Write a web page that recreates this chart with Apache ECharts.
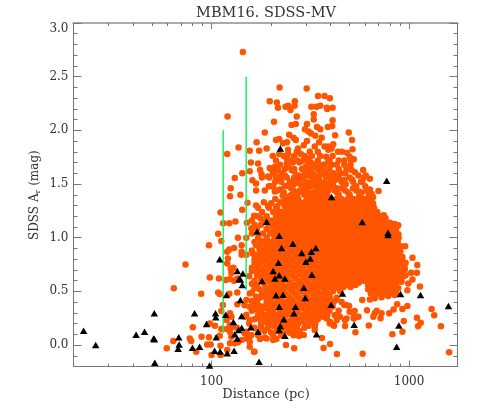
<!DOCTYPE html>
<html>
<head>
<meta charset="utf-8">
<style>
  html,body{margin:0;padding:0;background:#fff;}
  #chart{width:480px;height:413px;}
</style>
<script src="https://cdn.jsdelivr.net/npm/echarts@6/dist/echarts.min.js"></script>
</head>
<body>
<div id="chart"></div>
<script>
// tick values
const xMajor=[100,1000];
const xMinor=[20,30,40,50,60,70,80,90,200,300,400,500,600,700,800,900];
const yMajor=[0,0.5,1,1.5,2,2.5,3];

// MBM16 sightline markers [distance, A_r]
const greenA=[[114.5,0.11],[114.5,2.0]];
const greenB=[[149.7,0.51],[149.7,2.5]];

// orange dots, the sparse top of the cloud [distance, A_r]
const orangeTop=[[144,2.73],[221,2.40],[303,2.39],[346,2.32],[373,2.32],[397,2.30],[197,2.27],[214,2.26],[264,2.27],[263,2.23],[217,2.21],[237,2.22],[244,2.23],[251,2.19],[320,2.22],[340,2.22],[355,2.23],[385,2.20],[383,2.21],[410,2.21],[270,2.13],[329,2.15],[329,2.10],[410,2.095],[120.5,2.13],[207,2.08],[254,2.05],[267,2.06],[304,2.06],[388,2.03],[408,2.04],[342,2.03],[355,2.01],[297,2.01],[186,1.98],[247,1.96],[310,1.99],[319,1.97],[495,1.98],[422,1.955],[260,1.93],[267,1.91],[335,1.95],[361,1.93],[220,1.92],[212,1.91],[169,1.89],[241,1.89],[304,1.90],[350,1.89],[514,1.91],[230,1.88],[413,1.87],[390,1.85],[405,1.83],[137,1.84],[190,1.83],[156,1.81],[174,1.81],[120,1.78],[244,1.82],[274,1.83],[293,1.86],[333,1.85],[373,1.85],[517,1.825],[204,1.76],[220,1.78],[244,1.78],[270,1.80],[283,1.78],[314,1.80],[345,1.80],[390,1.82],[437,1.80],[458,1.80],[486,1.79],[500,1.755],[380,1.755],[508,1.72],[525,1.73],[158,1.70],[172,1.69],[197,1.65],[209,1.66],[222,1.68],[240,1.69],[254,1.63],[279,1.70],[309,1.71],[333,1.66],[367,1.68],[390,1.71],[156,1.62],[176,1.63],[179,1.59],[217,1.63],[143,1.60],[131,1.555],[193,1.57],[215,1.57],[161,1.535],[168,1.505],[168,1.44],[125,1.46],[124,1.385],[140,1.40],[186,1.44],[199,1.48],[222,1.45],[209,1.43],[229,1.39],[241,1.375],[244,1.49],[254,1.46],[152,1.325],[168,1.30],[143,1.26],[111,1.235],[184,1.33],[193,1.295],[164,1.205],[212,1.29],[114.5,1.135],[123,1.135],[132,1.15],[151,1.14],[177,1.18],[159,1.085]];

// orange dots, left of the cloud and below zero
const orangeLeft=[[59.3,-0.03],[64,0.037],[64.4,0.53],[73.8,0.75],[77.6,0.062],[78.8,0.037],[80.4,0.165],[83.6,-0.062],[89,0.077],[88.6,0.478],[95,0.006],[99,0.006],[97,0.072],[98,0.63],[97,0.93],[98,0.2],[104,0.18],[100,-0.093],[108,1.036],[112,0.97],[109,0.62],[108,0.49],[110,0.475],[114,0.372],[112,0.317],[112,0.15],[110,0.087],[111,-0.006],[111,-0.093],[120,0.87],[123,0.89],[130,0.905],[121,0.807],[120,0.76],[129,0.72],[125,0.71],[126,0.67],[118,0.605],[124,0.615],[130,0.60],[135,0.62],[123,0.478],[135,0.49],[135,0.38],[124,0.295],[126,0.263],[119,0.233],[124,0.186],[119,0.149],[129,0.17],[124,0.124],[134,0.16],[126,0.077],[124,0.016],[131,0.016],[136,0.025],[142,0.046],[120,-0.047],[142,0.93],[142,0.87],[142,0.84],[136,1.0],[150,0.42],[156,0.48],[165,0.53],[162,0.574],[147,0.37],[156,0.357],[165,0.37],[147,0.263],[156,0.233],[159,0.093],[156,0.03],[156,-0.016],[165,-0.062],[147,0.109],[150,0.062],[150,0.124],[156,0.077],[164,-0.062]];

// orange dots, lower edge and right of the cloud
const orangeRight=[[190,0.062],[207,0.053],[238,0],[262,-0.03],[277,0.084],[293,0.093],[333,0.17],[333,0.14],[176,0.056],[277,0.124],[249,0.115],[186,0.07],[205,0.046],[213,0.056],[397,0.2],[417,0.18],[474,0.233],[500,0.31],[530,0.317],[480,0.372],[525,0.263],[362,0.065],[398,0.009],[369,-0.028],[431,-0.084],[582,-0.081],[1595,-0.068],[554,0.263],[525,0.248],[497,0.363],[470,0.372],[482,0.248],[447,0.263],[430,0.233],[413,0.186],[397,0.217],[383,0.248],[367,0.263],[474,0.177],[535,0.12],[625,0.183],[612,0.323],[717,0.25],[685,0.32],[659,0.263],[670,0.295],[725,0.295],[793,0.295],[835,0.332],[870,0.38],[925,0.335],[980,0.363],[940,0.223],[925,0.124],[823,0.10],[1095,0.254],[1145,0.208],[1110,0.174],[1300,0.335],[1340,0.277],[1448,0.174],[579,0.42],[633,0.425],[670,0.435],[725,0.444],[783,0.456],[845,0.465],[881,0.528],[815,0.574],[1135,0.546],[980,0.51],[990,0.574],[1040,0.61],[915,0.59],[960,0.65],[1025,0.673],[1095,0.673],[950,0.70],[1100,0.745],[960,0.766],[1040,0.813],[925,0.82],[903,0.87],[955,0.92],[870,0.977],[882,1.033],[870,1.11],[881,1.117],[845,1.127],[800,1.14],[760,1.18],[745,1.21],[683,1.21],[620,1.26],[646,1.29],[657,1.32],[633,1.36],[657,1.38],[646,1.41],[700,1.435],[633,1.45],[620,1.44],[559,1.43],[580,1.52],[633,1.55],[604,1.58],[553,1.58],[532,1.61],[585,1.63],[511,1.63]];

// orange dots, the dense core, one row per A_r band: [A_r, distances...]
const orangeCore=[
[1.76,232,262,295,322,355,410],
[1.72,212,250,272,292,345,395,440,470],
[1.68,330,352,373,405,430,470,505],
[1.64,200,214,235,262,287,316,345,395,440,482],
[1.60,205,228,300,325,360,385,415,450,475],
[1.58,235,275,310,345,395,435],
[1.56,180,196,212,240,262,290,322,350,380,410,440,500,590],
[1.54,425,470,515],
[1.52,210,225,250,275,300,330,355,400,455,520,570],
[1.50,262,282,312,345,380,412,478],
[1.48,195,205,235,290,320,340,370,400,465,540,600],
[1.46,430,455,520],
[1.44,215,260,280,305,345,365,390,420,475,540,610],
[1.42,232,270,292,325,355,380,432,490,575],
[1.40,255,272,295,320,335,360,385,440,500,560,625],
[1.36,210,235,250,275,305,330,350,380,400,430,455,490,520,550,585,610],
[1.34,268,300,326,358,376,405,436,462,505,538,575],
[1.32,200,230,245,265,290,315,340,365,390,415,440,470,495,530,565,600,640],
[1.30,255,282,308,333,358,380,408,425,455,482,512,545,575,618],
[1.28,172,195,215,240,260,280,300,325,350,375,400,430,460,490,520,550,585,625,665],
[1.26,262,288,310,332,358,382,412,442,472,500,532,565,598,640],
[1.24,180,205,225,250,270,290,315,340,365,390,420,450,480,510,540,575,610,650,690],
[1.22,245,268,298,322,348,372,398,428,458,488,518,552,585,622,662],
[1.20,170,190,212,235,260,280,305,330,355,380,405,435,465,495,525,560,595,635,675,715],
[1.18,235,258,284,308,335,362,388,416,446,476,506,538,572,608,648,690],
[1.16,160,185,200,220,245,270,295,318,345,370,395,425,455,485,515,550,585,620,660,700,740],
[1.14,225,252,276,302,326,352,378,406,436,466,498,530,565,600,640,680,722],
[1.12,165,178,195,210,232,255,280,305,330,355,385,415,445,475,505,540,575,610,650,690,730,775],
[1.10,215,240,266,290,315,340,368,396,426,456,486,518,552,588,625,665,705,750,795],
[1.08,170,190,205,222,245,270,295,320,345,375,405,435,465,495,530,565,600,640,680,720,765,815,860],
[1.06,228,252,276,302,326,352,380,412,442,472,505,538,572,610,650,690,735,780,825],
[1.04,160,182,198,215,238,262,285,310,335,365,395,425,455,490,520,555,590,630,670,710,755,800,850],
[1.02,220,245,268,292,318,342,370,400,432,462,495,530,565,600,640,680,725,770,815],
[1.00,150,172,190,208,230,255,278,300,328,355,385,415,445,475,510,545,580,620,660,700,745,790,840,885],
[0.98,212,238,262,286,310,335,362,392,422,452,485,518,555,592,632,672,715,760,805,855],
[0.96,165,185,200,222,245,270,295,320,345,375,405,435,465,500,535,570,610,650,690,735,780,830,875],
[0.94,225,250,275,298,325,352,382,412,444,476,510,546,584,624,664,708,752,798,845],
[0.92,175,195,215,238,260,285,310,335,365,395,425,455,490,525,560,600,640,680,725,770,820,865,910],
[0.90,215,240,265,290,315,342,372,402,434,466,500,536,572,612,654,696,740,785,835,880],
[0.88,160,185,205,228,250,275,300,325,355,385,415,445,480,515,550,590,630,670,715,760,805,850],
[0.86,205,230,255,280,305,332,360,390,422,454,488,524,562,600,642,684,728,775,822,868],
[0.84,150,172,195,218,240,265,290,315,345,375,405,435,470,505,540,580,620,660,705,750,795,840,885],
[0.82,218,242,268,292,320,350,380,410,442,476,512,550,590,630,672,718,762,808,855,900],
[0.80,165,185,208,230,255,280,305,335,365,395,425,460,495,530,570,610,650,695,740,785,830,875,920],
[0.78,210,235,258,284,310,338,368,398,432,466,502,540,578,620,662,706,752,798,845,892],
[0.76,175,198,220,245,270,295,325,355,385,415,450,485,520,560,600,640,685,730,775,820,870,915],
[0.74,222,248,272,298,328,358,390,422,456,492,530,568,610,652,698,742,790,838,885],
[0.72,160,185,210,235,260,285,315,345,375,405,440,475,510,550,590,630,675,720,765,810,860,910,950],
[0.70,212,238,262,290,318,350,380,412,446,482,520,558,600,642,686,732,780,826,875],
[0.68,170,195,225,250,275,305,335,365,395,430,465,500,540,580,620,665,710,755,800,850,900],
[0.66,225,250,278,308,338,370,402,436,472,510,548,590,632,676,722,768,815,862],
[0.64,155,180,205,235,260,290,320,350,380,415,450,485,525,565,605,650,695,740,790,840,890,940],
[0.62,210,238,265,295,326,356,388,422,458,496,536,576,618,662,708,752,800,848],
[0.60,165,190,215,245,275,305,335,365,400,435,470,510,550,590,635,680,730,775,825,870],
[0.58,222,250,280,308,338,370,405,440,478,518,556,635,680,728,775,822,842],
[0.56,170,200,230,260,290,320,350,385,420,455,495,535,620,665,715,760,810,860],
[0.54,212,240,268,298,330,362,395,430,465,505,640,690,735,780,830],
[0.52,175,195,220,250,280,310,340,375,410,445,620,655,700,745,795,850],
[0.50,225,255,285,315,345,378,412,448,650,705,760,815],
[0.48,180,205,235,265,295,325,355,385,640,690,745,800,860],
[0.46,212,242,270,300,330,360,395],
[0.44,175,198,225,250,278,305,335,365,395,430],
[0.42,222,255,285,315,345,378,425],
[0.40,170,190,215,240,262,290,320,350,385,415,455],
[0.38,212,245,270,298,330,362,395],
[0.36,165,180,205,232,255,280,310,340,375,410],
[0.34,190,225,255,285,318,350,382],
[0.32,160,178,198,222,245,270,300,330,360,395,440],
[0.30,205,240,272,305,340,372],
[0.28,150,172,190,212,238,262,290,320,350,385,420],
[0.26,195,228,262,295,330],
[0.24,165,185,208,232,255,280,310,345],
[0.22,215,245,285,320],
[0.20,155,178,200,225,250,275,300,335],
[0.18,205,238,262,310],
[0.16,165,192,215,245,270,295],
[0.12,172,200,230,262]
];

// orange dots, upper middle of the cloud, same row layout
const orangeMid=[
[1.74,240,305],
[1.70,258,318],
[1.66,245,300,360],
[1.62,262,312,372],
[1.59,295,355],
[1.55,225,278,335],
[1.51,265,318,372],
[1.47,250,302,358],
[1.43,288,340],
[1.39,250,305,352,378],
[1.35,262,318,365],
[1.33,222,252,278,302,328,352],
[1.29,235,268,292,318,345,370],
[1.25,212,240,278,300,325,350],
[1.21,225,252,275,295,318,342,368],
[1.17,212,242,268,292,315,340],
[1.13,200,240,265,290,316,342],
[1.09,210,232,258,282,308,332,356],
[1.05,205,222,248,270,295,320,345]
];

// orange dots, mottled left flank of the cloud, same row layout
const orangeFlank=[
[0.97,178,192,215,232],
[0.93,168,188,205,225],
[0.89,175,195,215,238],
[0.85,162,182,205,228],
[0.81,175,195,215],
[0.77,165,188,208,232],
[0.73,172,198,222],
[0.69,160,182,205,215],
[0.65,170,192,215],
[0.61,178,202,230],
[0.57,160,185,212],
[0.53,168,188,208,232],
[0.49,160,192,218],
[0.45,168,185,212],
[0.41,160,200,228],
[0.37,172,192,220],
[0.33,168,205,240],
[0.29,180,200,225,250],
[0.25,172,198,220,270],
[0.21,190,238,262],
[0.17,178,228,255],
[0.13,185,215,245,280],
[0.09,172,205,225,260]
];

// black triangles [distance, A_r]
const triangles=[[22.5,0.133],[25.9,0],[41.5,0.096],[45.8,0.124],[51.3,0.295],[50.9,0.06],[51.4,0.053],[51.6,-0.165],[68.2,0.072],[68.5,0.006],[67.7,-0.035],[80,-0.025],[87,-0.015],[82,0.295],[94.3,0.195],[97.7,-0.19],[104.7,0.295],[105,0.258],[105.5,0.072],[103.6,-0.053],[110.5,-0.06],[120,-0.077],[110,0.80],[119,0.465],[118,0.282],[129,0.214],[130,-0.053],[131,0.10],[135,0.062],[135,0.69],[138,0.615],[140,0.42],[142,0.27],[137,0.14],[144,0.667],[140,0.61],[143,0.56],[190,1.148],[170,1.058],[220,1.018],[258,0.943],[226,0.903],[337,0.903],[320,0.87],[286,0.857],[316,0.807],[300,0.776],[218,0.766],[205,0.69],[322,0.655],[220,0.65],[209,0.62],[235,0.62],[180,0.596],[293,0.534],[212,0.463],[230,0.468],[298,0.438],[220,0.357],[266,0.357],[261,0.295],[232,0.24],[223,0.177],[220,0.14],[340,0.10],[235,0.087],[172,0.124],[158,0.165],[142,0.16],[174,-0.155],[770,1.53],[405,1.38],[579,1.145],[782,1.045],[782,1.025],[460,0.48],[403,0.375],[527,0.19],[905,0.475],[1142,0.465],[1582,0.363],[888,0.183],[865,-0.015],[223,1.83]];

const orangeDots=orangeTop.concat(orangeLeft,orangeRight);
[orangeCore,orangeMid,orangeFlank].forEach((rows)=>{
    rows.forEach((row)=>{
        row.slice(1).forEach((d)=>orangeDots.push([d,row[0]]));
    });
});

const gridBox={left:73.5,right:22.5,top:23,bottom:46.5};
const lineColor='#777';
const textColor='#333';
const serif='"DejaVu Serif","Liberation Serif",serif';

function makeX(gridIndex,position,ticks,len,labels){
    return {
        type:'log',gridIndex,position,min:20,max:1758,
        splitLine:{show:false},
        axisLine:{show:true,onZero:false,lineStyle:{color:position=='top'?'#aaa':lineColor,width:position=='top'?2:1}},
        axisTick:{show:true,inside:true,length:len,customValues:ticks,lineStyle:{color:lineColor}},
        axisLabel:labels?{show:true,customValues:ticks,margin:9,color:textColor,fontFamily:serif,fontSize:12,formatter:(v)=>String(Math.round(v))}:{show:false}
    };
}
function makeY(gridIndex,position,ticks,len,labels){
    const tick={show:true,inside:true,length:len,lineStyle:{color:lineColor}};
    if(ticks){tick.customValues=ticks;}
    return {
        type:'value',gridIndex,position,min:-0.2,max:3,interval:0.1,
        splitLine:{show:false},
        axisLine:{show:true,onZero:false,lineStyle:{color:lineColor}},
        axisTick:tick,
        axisLabel:labels?{show:true,customValues:ticks,margin:5,verticalAlignMaxLabel:'top',color:textColor,fontFamily:serif,fontSize:12,formatter:(v)=>v.toFixed(1)}:{show:false}
    };
}

const myChart=echarts.init(document.getElementById('chart'));
myChart.setOption({
    animation:false,
    title:{
        text:'MBM16. SDSS-MV',left:261,top:1,textAlign:'center',
        textStyle:{fontFamily:serif,fontWeight:'normal',fontSize:14.5,color:textColor}
    },
    grid:[gridBox,gridBox],
    xAxis:[
        makeX(0,'bottom',xMajor,6,true),
        makeX(0,'top',xMajor,6,false),
        makeX(1,'bottom',xMinor,3,false),
        makeX(1,'top',xMinor,3,false)
    ],
    yAxis:[
        makeY(0,'left',yMajor,8,true),
        makeY(0,'right',yMajor,8,false),
        makeY(1,'left',null,4,false),
        makeY(1,'right',null,4,false)
    ],
    // y title is rotated rich text so the r can be a subscript
    graphic:[
        {type:'text',x:266,y:388,style:{text:'Distance (pc)',fill:textColor,font:'13px '+serif,textAlign:'center'}},
        {type:'text',x:28,y:240,rotation:Math.PI/2,style:{
            text:'SDSS A{s|r} (mag)',
            rich:{s:{fontSize:8,fontFamily:serif,fill:textColor,verticalAlign:'bottom',padding:[6,0,0,0]}},
            fill:textColor,font:'12px '+serif
        }}
    ],
    series:[
        {type:'scatter',xAxisIndex:0,yAxisIndex:0,data:orangeDots,symbol:'circle',symbolSize:6.5,itemStyle:{color:'#ff5500',opacity:1},z:2},
        {type:'line',xAxisIndex:0,yAxisIndex:0,data:greenA,symbol:'none',lineStyle:{color:'#1fee60',width:1.5},z:3},
        {type:'line',xAxisIndex:0,yAxisIndex:0,data:greenB,symbol:'none',lineStyle:{color:'#1fee60',width:1.5},z:3},
        {type:'scatter',xAxisIndex:0,yAxisIndex:0,data:triangles,symbol:'triangle',symbolSize:[7.5,6.5],itemStyle:{color:'#000',opacity:1},z:4}
    ]
});
</script>
</body>
</html>
